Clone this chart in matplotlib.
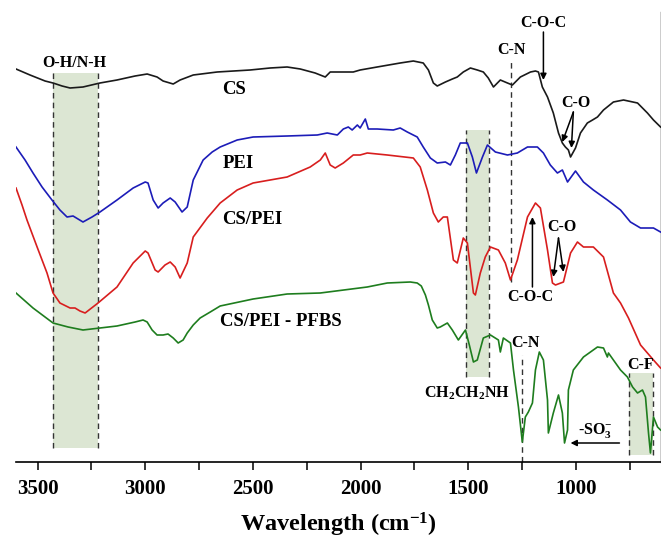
import matplotlib
matplotlib.use("Agg")
import matplotlib.pyplot as plt
from matplotlib.ticker import MultipleLocator

plt.rcParams['font.family'] = ['Liberation Serif', 'DejaVu Serif']
plt.rcParams['font.weight'] = 'bold'
plt.rcParams['mathtext.fontset'] = 'custom'
plt.rcParams['mathtext.rm'] = 'Liberation Serif:bold'
plt.rcParams['mathtext.it'] = 'Liberation Serif:bold'
plt.rcParams['mathtext.bf'] = 'Liberation Serif:bold'

# FTIR spectra, wavenumber (cm-1) vs. transmittance (a.u., stacked)
cs_wn = [3600, 3535, 3465, 3428, 3386, 3349, 3289, 3210, 3131, 3047, 2991, 2945, 2917, 2870,
         2838, 2777, 2666, 2513, 2420, 2341, 2280, 2211, 2164, 2141, 2034, 2002, 1923, 1816,
         1755, 1709, 1685, 1662, 1644, 1606, 1574, 1551, 1523, 1490, 1458, 1430, 1407, 1383,
         1351, 1318, 1295, 1258, 1211, 1188, 1174, 1156, 1132, 1105, 1081, 1063, 1049, 1035,
         1025, 1002, 979, 947, 923, 900, 872, 826, 779, 714, 668, 640, 607]
cs_t = [393, 387, 381, 379, 376, 374, 375, 379, 382, 386, 388, 385, 381, 378,
        382, 387, 390, 392, 394, 395, 393, 389, 385, 390, 390, 392, 395, 399,
        401, 399, 392, 379, 376, 380, 383, 385, 390, 394, 392, 390, 384, 375,
        382, 379, 377, 385, 390, 391, 390, 375, 365, 349, 329, 319, 315, 312,
        305, 314, 329, 339, 342, 345, 352, 360, 362, 359, 349, 342, 335]

pei_wn = [3600, 3558, 3521, 3479, 3433, 3396, 3363, 3335, 3312, 3289, 3247, 3210, 3131, 3056,
          3000, 2987, 2963, 2940, 2917, 2884, 2861, 2829, 2805, 2777, 2731, 2689, 2652, 2573,
          2499, 2341, 2201, 2155, 2108, 2080, 2057, 2039, 2015, 2002, 1978, 1964, 1923, 1848,
          1816, 1783, 1737, 1709, 1676, 1644, 1606, 1583, 1560, 1537, 1504, 1481, 1462, 1434,
          1411, 1374, 1318, 1272, 1225, 1179, 1151, 1119, 1086, 1063, 1039, 1002, 965, 919,
          854, 793, 747, 700, 640, 607]
pei_t = [315, 302, 289, 275, 262, 252, 245, 246, 243, 240, 245, 250, 262, 274,
         280, 279, 262, 254, 259, 264, 260, 250, 255, 282, 302, 310, 315, 322,
         325, 326, 327, 329, 327, 333, 335, 332, 337, 334, 343, 333, 333, 332,
         334, 330, 325, 315, 304, 299, 300, 297, 307, 319, 319, 305, 289, 305,
         317, 310, 307, 309, 315, 315, 309, 297, 289, 292, 280, 291, 280, 272,
         262, 252, 240, 234, 234, 230]

cspei_wn = [3600, 3572, 3549, 3502, 3456, 3428, 3396, 3349, 3326, 3303, 3279, 3219, 3131, 3056,
            3000, 2987, 2954, 2940, 2908, 2884, 2861, 2838, 2805, 2777, 2712, 2652, 2573, 2499,
            2341, 2234, 2187, 2164, 2141, 2118, 2080, 2034, 2002, 1969, 1876, 1755, 1723, 1690,
            1662, 1639, 1616, 1597, 1569, 1551, 1523, 1504, 1476, 1467, 1444, 1421, 1397, 1360,
            1328, 1304, 1272, 1225, 1188, 1165, 1132, 1109, 1095, 1058, 1025, 993, 965, 919,
            872, 826, 793, 756, 700, 640, 607]
cspei_t = [274, 257, 242, 215, 189, 169, 159, 154, 154, 151, 149, 159, 175, 199,
           211, 209, 192, 190, 197, 200, 195, 184, 199, 225, 244, 259, 272, 279,
           285, 295, 302, 309, 297, 294, 299, 307, 307, 309, 307, 304, 295, 272,
           249, 240, 245, 245, 202, 199, 224, 219, 169, 167, 189, 205, 215, 212,
           199, 182, 202, 245, 259, 254, 212, 179, 177, 180, 209, 220, 215, 215,
           205, 169, 159, 144, 117, 102, 94]

pfbs_wn = [3600, 3521, 3428, 3358, 3289, 3210, 3131, 3047, 3010, 2991, 2968, 2945, 2917, 2894,
           2870, 2847, 2824, 2805, 2777, 2745, 2698, 2652, 2499, 2341, 2187, 1969, 1876, 1769,
           1737, 1718, 1699, 1685, 1667, 1644, 1630, 1597, 1574, 1546, 1513, 1495, 1476, 1458,
           1430, 1397, 1360, 1351, 1337, 1304, 1290, 1267, 1249, 1235, 1221, 1202, 1188, 1170,
           1151, 1132, 1128, 1105, 1081, 1063, 1053, 1039, 1035, 1012, 965, 900, 872, 854,
           849, 826, 793, 761, 737, 714, 691, 677, 663, 654, 640, 621, 607]
pfbs_t = [169, 154, 139, 135, 132, 134, 136, 140, 142, 140, 132, 127, 127, 128,
          124, 119, 122, 129, 137, 144, 150, 156, 163, 168, 169, 175, 179, 180,
          179, 176, 167, 157, 142, 134, 135, 139, 132, 122, 132, 117, 100, 102,
          124, 127, 122, 110, 124, 119, 92, 55, 20, 45, 50, 59, 92, 110,
          102, 62, 29, 49, 67, 49, 19, 32, 72, 92, 105, 115, 114, 105,
          109, 102, 92, 85, 75, 69, 72, 65, 29, 9, 45, 35, 32]

series_names = ['CS', 'PEI', 'CS/PEI', 'CS/PEI - PFBS']
series_colors = ['#1a1a1a', '#1c1cb8', '#d81e1e', '#1e7d1e']

# shaded assignment bands: (wn_high, wn_low, bottom, top)
bands = [(3428, 3219, 14, 389), (1509, 1404, 85, 332), (752, 641, 7, 89)]
band_color = '#dce6d3'

fig = plt.figure(figsize=(6.61, 5.38), dpi=100)
ax = fig.add_axes([16 / 661, 76 / 538, 645 / 661, 450 / 538])

for x0, x1, y0, y1 in bands:
    ax.fill_between([x1, x0], y0, y1, color=band_color, lw=0, zorder=0)
    ax.vlines([x0, x1], y0, y1, colors='#333333', linestyles=(0, (4, 3)), lw=1.0, zorder=1)

# C-N dashed markers
ax.vlines(1300, 180, 400, colors='#333333', linestyles=(0, (4, 3)), lw=1.0, zorder=1)
ax.vlines(1250, 0, 107, colors='#333333', linestyles=(0, (4, 3)), lw=1.0, zorder=1)

for wn, t, c in zip([cs_wn, pei_wn, cspei_wn, pfbs_wn], [cs_t, pei_t, cspei_t, pfbs_t], series_colors):
    ax.plot(wn, t, color=c, lw=1.2, zorder=3)

# curve names
name_pos = [(2589, 372), (2568, 299), (2503, 242), (2369, 140)]
for name, (x, y) in zip(series_names, name_pos):
    ax.text(x, y, name, ha='center', va='center', fontsize=13.5, fontweight='bold')

# peak labels
peak_labels = ['O-H/N-H', 'C-N', 'C-O-C', 'C-O', 'C-O-C', 'C-O',
               'CH$_2$CH$_2$NH', 'C-N', '-SO$_3^{-}$', 'C-F']
peak_pos = [(3330, 399), (1300, 412), (1151, 439), (1002, 359), (1211, 165), (1063, 235),
            (1504, 69), (1235, 119), (909, 32), (700, 97)]
for lab, (x, y) in zip(peak_labels, peak_pos):
    ax.text(x, y, lab, ha='center', va='center', fontsize=11.5, fontweight='bold')

# arrows: (tail, tip)
arrows = [((1151, 430), (1151, 382)),
          ((1012, 350), (1063, 320)), ((1012, 350), (1021, 314)),
          ((1202, 175), (1202, 245)),
          ((1081, 224), (1105, 185)), ((1081, 224), (1058, 190)),
          ((798, 19), (1025, 19))]
for tail, tip in arrows:
    ax.annotate('', xy=tip, xytext=tail,
                arrowprops=dict(arrowstyle='-|>', color='black', lw=1.1,
                                mutation_scale=9, shrinkA=0, shrinkB=0))

ax.set_xlim(3600, 605)
ax.set_ylim(0, 450)
ax.xaxis.set_major_locator(MultipleLocator(500))
ax.xaxis.set_minor_locator(MultipleLocator(250))
ax.tick_params(axis='x', which='both', direction='out', length=6, width=1.1, pad=6, labelsize=15)
ax.set_yticks([])
for lab in ax.get_xticklabels():
    lab.set_fontweight('bold')
for s in ['top', 'left']:
    ax.spines[s].set_visible(False)
ax.spines['bottom'].set_linewidth(1.2)
ax.spines['right'].set_linewidth(1.0)
ax.set_xlabel('Wavelength (cm$^{-1}$)', fontsize=17.5, fontweight='bold', labelpad=9)

plt.savefig('out.png', dpi=100)
